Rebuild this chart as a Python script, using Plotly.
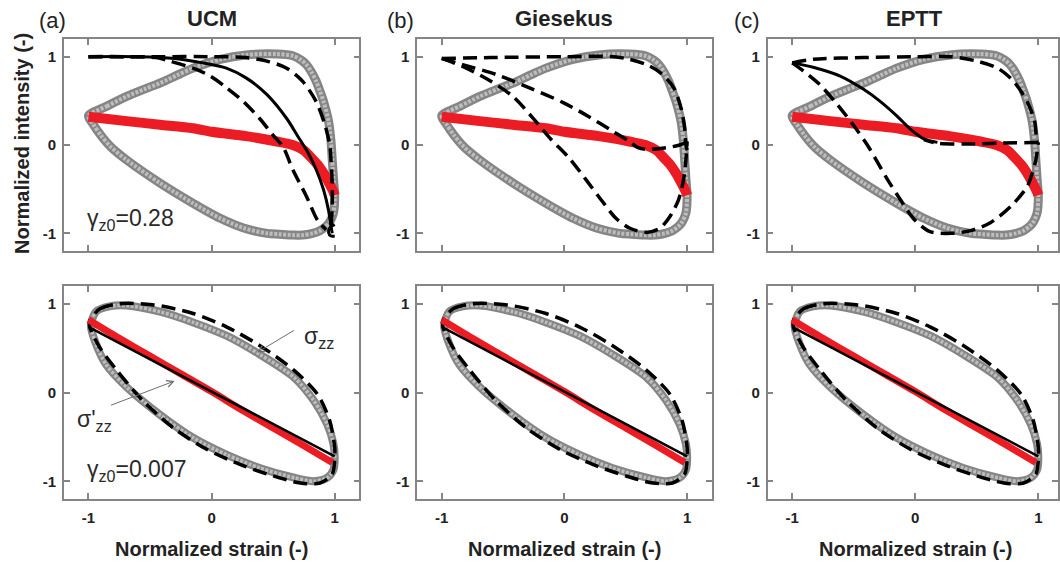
import plotly.graph_objects as go

# ---------------- data ----------------
models = ["UCM", "Giesekus", "EPTT"]
panel_tags = ["(a)", "(b)", "(c)"]
tick_vals = [-1, 0, 1]
tick_text = ["-1", "0", "1"]
gamma_labels = ["γ<sub>z0</sub>=0.28", "γ<sub>z0</sub>=0.007"]

# Measured sigma_zz loop at gamma_z0 = 0.28 (grey open circles)
exp_large_x = [-1.0, -0.85, -0.69, -0.55, -0.42, -0.28, -0.15, 0.07, 0.28, 0.53, 0.66,
               0.73, 0.77, 0.81, 0.85, 0.88, 0.91, 0.95, 0.97, 0.98, 0.99, 1.0,
               0.99, 0.96, 0.93, 0.88, 0.82, 0.74, 0.66, 0.55, 0.45, 0.26, 0.07,
               -0.15, -0.42, -0.69, -0.82, -0.9, -0.96, -1.0]
exp_large_y = [0.33, 0.44, 0.55, 0.63, 0.70, 0.79, 0.87, 0.97, 1.02, 1.03, 1.01,
               0.96, 0.91, 0.83, 0.72, 0.61, 0.49, 0.27, 0.04, -0.17, -0.38, -0.58,
               -0.77, -0.87, -0.92, -0.97, -1.0, -1.02, -1.02, -1.01, -1.0, -0.94, -0.83,
               -0.66, -0.43, -0.17, -0.02, 0.11, 0.23, 0.33]

# Measured sigma'_zz at gamma_z0 = 0.28 (red)
red_large_x = [-1.0, -0.69, -0.42, -0.15, 0.0, 0.28, 0.53, 0.66, 0.75, 0.8, 0.86, 0.91, 0.95, 0.99, 1.0]
red_large_y = [0.32, 0.27, 0.23, 0.19, 0.15, 0.10, 0.04, 0.0, -0.06, -0.13, -0.22, -0.32, -0.42, -0.53, -0.57]

# UCM predictions
ucm_inner_x = [-1.0, -0.7, -0.45, -0.34, -0.15, -0.01, 0.12, 0.26, 0.39, 0.5, 0.58, 0.66, 0.77, 0.86, 0.93]
ucm_inner_y = [1.0, 1.0, 0.99, 0.95, 0.87, 0.78, 0.65, 0.49, 0.30, 0.11, -0.02, -0.28, -0.58, -0.85, -0.96]
ucm_solid_x = [-1.0, -0.6, -0.3, -0.07, 0.12, 0.28, 0.45, 0.61, 0.70, 0.78, 0.85, 0.91, 0.95, 0.97, 0.98]
ucm_solid_y = [1.0, 1.0, 0.98, 0.93, 0.87, 0.76, 0.57, 0.30, 0.10, -0.08, -0.28, -0.51, -0.74, -0.92, -1.0]
ucm_outer_x = [-1.0, -0.4, 0.0, 0.28, 0.45, 0.61, 0.74, 0.85, 0.92, 0.96, 0.97, 0.98, 0.98, 0.97]
ucm_outer_y = [1.0, 1.0, 1.0, 0.99, 0.95, 0.87, 0.72, 0.49, 0.23, 0.0, -0.17, -0.45, -0.7, -0.94]
ucm_hook_x = [1.0, 0.96, 0.95, 0.97, 1.0]
ucm_hook_y = [-0.9, -0.94, -0.99, -1.03, -1.03]

# Giesekus predictions
gie_outer_x = [-1.0, -0.6, 0.0, 0.4, 0.53, 0.67, 0.78, 0.89, 0.95, 0.98, 0.99, 1.0]
gie_outer_y = [0.98, 0.99, 1.0, 1.0, 0.97, 0.91, 0.82, 0.65, 0.42, 0.19, 0.0, -0.06]
gie_mid_x = [-1.0, -0.83, -0.56, -0.29, -0.01, 0.2, 0.4, 0.53, 0.6, 0.67, 0.83, 0.94, 1.0]
gie_mid_y = [0.98, 0.91, 0.80, 0.65, 0.48, 0.32, 0.15, 0.04, -0.03, -0.05, -0.03, 0.0, 0.04]
gie_inner_x = [-1.0, -0.83, -0.61, -0.42, -0.26, -0.12, 0.04, 0.18, 0.31, 0.42, 0.53, 0.67,
               0.78, 0.86, 0.93, 0.97, 0.99, 1.0]
gie_inner_y = [0.98, 0.89, 0.73, 0.55, 0.31, 0.08, -0.15, -0.40, -0.64, -0.83, -0.94, -0.99,
               -0.94, -0.81, -0.62, -0.40, -0.17, 0.04]

# EPTT predictions
eptt_outer_x = [-1.0, -0.83, -0.42, 0.0, 0.29, 0.5, 0.67, 0.8, 0.91, 0.97, 0.99, 1.0]
eptt_outer_y = [0.93, 0.97, 0.99, 1.0, 1.0, 0.95, 0.87, 0.72, 0.49, 0.27, 0.04, 0.03]
eptt_flat_x = [1.0, 0.67, 0.4, 0.18, 0.07]
eptt_flat_y = [0.03, 0.02, 0.01, 0.02, 0.06]
eptt_mid_x = [-1.0, -0.83, -0.61, -0.42, -0.29, -0.15, -0.04, 0.07, 0.18]
eptt_mid_y = [0.93, 0.88, 0.78, 0.63, 0.50, 0.33, 0.18, 0.07, 0.03]
eptt_inner_x = [-1.0, -0.91, -0.78, -0.64, -0.5, -0.38, -0.23, -0.12, -0.01, 0.12, 0.29,
                0.45, 0.61, 0.78, 0.91, 0.95, 0.98, 1.0]
eptt_inner_y = [0.93, 0.84, 0.69, 0.47, 0.22, -0.02, -0.38, -0.62, -0.84, -0.98, -1.0,
                -0.97, -0.88, -0.69, -0.47, -0.32, -0.17, 0.03]

# Small amplitude (gamma_z0 = 0.007): measured loop, model ellipse, sigma'_zz
exp_small_x = [-0.98, -0.94, -0.83, -0.69, -0.42, -0.15, 0.12, 0.39, 0.67, 0.83, 0.94, 0.99,
               1.0, 0.99, 0.94, 0.83, 0.67, 0.39, 0.12, -0.15, -0.42, -0.69, -0.86, -0.94, -0.98]
exp_small_y = [0.75, 0.91, 0.97, 0.98, 0.91, 0.79, 0.64, 0.43, 0.17, -0.09, -0.36, -0.58,
               -0.74, -0.87, -0.96, -1.0, -0.96, -0.85, -0.70, -0.51, -0.25, 0.06, 0.32, 0.55, 0.75]
model_small_x = [-0.99, -0.91, -0.75, -0.48, -0.15, 0.12, 0.39, 0.67, 0.86, 0.96, 1.0, 1.0,
                 0.98, 0.88, 0.72, 0.5, 0.23, -0.04, -0.31, -0.56, -0.77, -0.91, -0.99, -0.99]
model_small_y = [0.81, 0.94, 1.0, 0.99, 0.89, 0.74, 0.53, 0.25, -0.02, -0.32, -0.62, -0.76,
                 -0.92, -1.02, -1.02, -0.94, -0.81, -0.64, -0.40, -0.09, 0.25, 0.51, 0.74, 0.81]
red_small_x = [-1.0, -0.75, -0.5, -0.25, 0.0, 0.25, 0.5, 0.75, 0.98]
red_small_y = [0.82, 0.61, 0.41, 0.21, 0.01, -0.2, -0.4, -0.6, -0.79]
lin_small_x = [-1.0, 1.0]
lin_small_y = [0.74, -0.72]

# ---------------- figure ----------------
W, H = 1060, 564
FONT = "Liberation Sans, Arial, sans-serif"
FRAME = "#858585"
TXT = "#222222"

fig = go.Figure()

x_dom = [[64 / W, 360 / W], [418 / W, 713 / W], [769 / W, 1.0]]
y_dom = [[1 - 251 / H, 1 - 39 / H], [1 - 499 / H, 1 - 286 / H]]
x_rng = [[-1.2, 1.2], [-1.2, 1.2], [-1.2, 1.16]]


def ax_id(k):
    return "" if k == 1 else str(k)


for r in range(2):
    for c in range(3):
        k = r * 3 + c + 1
        common = dict(showline=True, linecolor=FRAME, linewidth=1.5, mirror="ticks",
                      ticks="inside", ticklen=6, tickwidth=1.5, tickcolor=FRAME,
                      showgrid=False, zeroline=False, tickmode="array",
                      tickvals=tick_vals, ticktext=tick_text,
                      tickfont=dict(family=FONT, size=15, color=TXT, weight="bold"),
                      fixedrange=True)
        fig.update_layout({
            f"xaxis{ax_id(k)}": dict(domain=x_dom[c], anchor=f"y{ax_id(k)}", range=x_rng[c],
                                     showticklabels=(r == 1), ticklabelstandoff=4, **common),
            f"yaxis{ax_id(k)}": dict(domain=y_dom[r], anchor=f"x{ax_id(k)}", range=[-1.2, 1.2],
                                     ticklabelstandoff=3, **common),
        })


def add(k, x, y, color, width, dash="solid"):
    fig.add_trace(go.Scatter(
        x=x, y=y, xaxis=f"x{ax_id(k)}", yaxis=f"y{ax_id(k)}", mode="lines",
        line=dict(color=color, width=width, dash=dash, shape="spline", smoothing=0.8),
        hoverinfo="skip", showlegend=False))


def open_circle_band(k, x, y, width):
    # dense open-circle markers read as a grey band with a lighter core
    add(k, x, y, "#858585", width)
    add(k, x, y, "#bdbdbd", width * 0.45, "3px,1.5px")


DASH = "14px,7px"
model_lines = [
    [(ucm_inner_x, ucm_inner_y, DASH), (ucm_solid_x, ucm_solid_y, "solid"),
     (ucm_outer_x, ucm_outer_y, DASH), (ucm_hook_x, ucm_hook_y, "solid")],
    [(gie_outer_x, gie_outer_y, DASH), (gie_mid_x, gie_mid_y, DASH),
     (gie_inner_x, gie_inner_y, DASH)],
    [(eptt_outer_x, eptt_outer_y, DASH), (eptt_flat_x, eptt_flat_y, DASH),
     (eptt_mid_x, eptt_mid_y, "solid"), (eptt_inner_x, eptt_inner_y, DASH)],
]

for c in range(3):
    # large amplitude row
    k = c + 1
    open_circle_band(k, exp_large_x, exp_large_y, 9)
    add(k, red_large_x, red_large_y, "#ec1c24", 10)
    for lx, ly, d in model_lines[c]:
        add(k, lx, ly, "black", 3.5 if d != "solid" else 3, d)
    # small amplitude row
    k = c + 4
    open_circle_band(k, exp_small_x, exp_small_y, 8)
    add(k, model_small_x, model_small_y, "black", 3.5, DASH)
    add(k, red_small_x, red_small_y, "#ec1c24", 7)
    add(k, lin_small_x, lin_small_y, "black", 2.5)

annotations = []
panel_centers = [212, 565.5, 916]
tag_left = [37, 386, 733]
for c in range(3):
    annotations.append(dict(x=panel_centers[c] / W, y=1 - 19 / H, xref="paper", yref="paper",
                            text=f"<b>{models[c]}</b>", showarrow=False, xanchor="center",
                            yanchor="middle", font=dict(family=FONT, size=22, color=TXT)))
    annotations.append(dict(x=tag_left[c] / W, y=1 - 20 / H, xref="paper", yref="paper",
                            text=panel_tags[c], showarrow=False, xanchor="left",
                            yanchor="middle", font=dict(family=FONT, size=22, color=TXT)))
    annotations.append(dict(x=0, y=1 - 549 / H, xref=f"x{ax_id(c + 4)}", yref="paper",
                            text="<b>Normalized strain (-)</b>", showarrow=False,
                            xanchor="center", yanchor="middle",
                            font=dict(family=FONT, size=20, color=TXT)))

annotations.append(dict(x=22 / W, y=1 - 143 / H, xref="paper", yref="paper",
                        text="<b>Normalized intensity (-)</b>", textangle=-90, showarrow=False,
                        xanchor="center", yanchor="middle",
                        font=dict(family=FONT, size=20, color=TXT)))

annotations.append(dict(x=-1.03, y=-0.84, xref="x", yref="y", text=gamma_labels[0],
                        showarrow=False, xanchor="left", yanchor="middle",
                        font=dict(family=FONT, size=23, color="#2a2a2a")))
annotations.append(dict(x=-1.03, y=-0.875, xref="x4", yref="y4", text=gamma_labels[1],
                        showarrow=False, xanchor="left", yanchor="middle",
                        font=dict(family=FONT, size=23, color="#2a2a2a")))

# labels with arrows in the small-amplitude UCM panel
annotations.append(dict(x=0.87, y=0.62, xref="x4", yref="y4", text="σ<sub>zz</sub>",
                        showarrow=False, xanchor="center", yanchor="middle",
                        font=dict(family=FONT, size=23, color="#2a2a2a")))
annotations.append(dict(x=0.37, y=0.45, xref="x4", yref="y4", ax=0.68, ay=0.71,
                        axref="x4", ayref="y4", text="", showarrow=True, arrowhead=5,
                        arrowsize=1.3, arrowwidth=1, arrowcolor="#6e6e6e"))
annotations.append(dict(x=-0.95, y=-0.32, xref="x4", yref="y4", text="σ'<sub>zz</sub>",
                        showarrow=False, xanchor="center", yanchor="middle",
                        font=dict(family=FONT, size=23, color="#2a2a2a")))
annotations.append(dict(x=-0.30, y=0.13, xref="x4", yref="y4", ax=-0.83, ay=-0.15,
                        axref="x4", ayref="y4", text="", showarrow=True, arrowhead=5,
                        arrowsize=1.3, arrowwidth=1, arrowcolor="#6e6e6e"))

fig.update_layout(width=W, height=H, margin=dict(l=0, r=0, t=0, b=0),
                  paper_bgcolor="white", plot_bgcolor="white",
                  annotations=annotations, showlegend=False)

fig.write_html("out.html")
